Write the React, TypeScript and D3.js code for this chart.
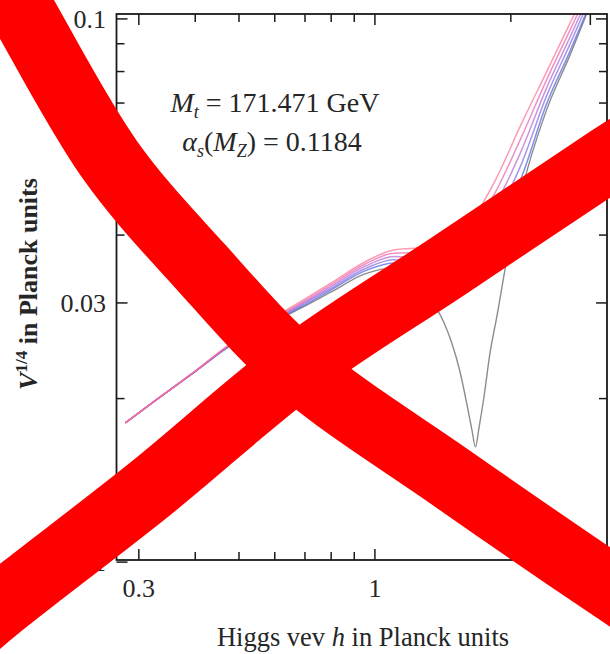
import React from "react";
import * as d3 from "d3";

const W = 610;
const H = 654;
const frame = { left: 116.5, right: 607, top: 14, bottom: 560 };

// Axis domains (log-log)
const xDomain: [number, number] = [0.2677, 3.266];
const yDomain: [number, number] = [0.01009, 0.1021];

const xMajorTicks = [0.3, 1, 3];
const xTickLabels = ["0.3", "1", "3"];
const xMinorTicks = [0.4, 0.5, 0.6, 0.7, 0.8, 0.9, 2];
const yMajorTicks = [0.01, 0.03, 0.1];
const yTickLabels = ["0.01", "0.03", "0.1"];
const yMinorTicks = [0.02, 0.04, 0.05, 0.06, 0.07, 0.08, 0.09];

// Higgs vev h (Planck units) shared by the coloured family
const hGrid = [0.28, 0.33, 0.4, 0.48, 0.57, 0.68, 0.8, 0.95, 1.1, 1.3, 1.45, 1.65, 1.85, 2.1, 2.4, 2.7, 3.0];

// V^{1/4} for each member of the family
const vPink = [0.01804, 0.01997, 0.02248, 0.02527, 0.02756, 0.03006, 0.03265, 0.03569, 0.03756, 0.03804, 0.03919, 0.04302, 0.05054, 0.06354, 0.07989, 0.09793, 0.117];
const vRose = [0.01804, 0.01997, 0.02247, 0.02522, 0.02747, 0.02989, 0.03241, 0.03535, 0.03704, 0.03719, 0.03807, 0.04132, 0.04803, 0.06001, 0.07723, 0.09506, 0.1145];
const vOrchid = [0.01804, 0.01997, 0.02246, 0.02518, 0.02738, 0.02971, 0.03217, 0.03502, 0.03654, 0.03638, 0.03701, 0.03969, 0.04565, 0.05667, 0.07465, 0.09229, 0.1119];
const vViolet = [0.01804, 0.01997, 0.02245, 0.02515, 0.02729, 0.02955, 0.03193, 0.03468, 0.03603, 0.03557, 0.03595, 0.03812, 0.04338, 0.05352, 0.07216, 0.08959, 0.1095];
const vBlue = [0.01804, 0.01997, 0.02243, 0.02511, 0.02721, 0.02937, 0.0317, 0.03436, 0.03554, 0.0348, 0.03495, 0.03662, 0.04123, 0.05054, 0.06976, 0.08697, 0.107];

// Critical case: the potential nearly vanishes around h ~ 1.67
const hCritical = [0.28, 0.33, 0.4, 0.48, 0.57, 0.68, 0.8, 0.95, 1.1, 1.2, 1.3, 1.36, 1.42, 1.48, 1.54, 1.6, 1.64, 1.67, 1.7, 1.74, 1.8, 1.86, 1.95, 2.1, 2.4, 2.7, 3.0];
const vCritical = [0.01804, 0.01997, 0.02243, 0.02508, 0.02715, 0.02924, 0.03143, 0.03392, 0.0348, 0.03378, 0.0317, 0.02962, 0.02768, 0.02532, 0.02258, 0.01946, 0.01751, 0.01629, 0.01766, 0.01988, 0.02437, 0.02815, 0.03524, 0.04722, 0.068, 0.0855, 0.1062];

const familyColors = ["#ff6f8e", "#e564b2", "#b468d2", "#8468e0", "#4f5fe0"];
const criticalColor = "#8c8c8c";

// Big red cross drawn over the figure
const crossStrokeA: [number, number][] = [[-15, -53], [16, 0], [110, 160], [200, 266], [300, 370], [450, 477], [610, 587], [660, 620]];
const crossStrokeB: [number, number][] = [[-40, 640], [0, 606], [150, 489], [300, 365], [450, 265], [610, 158], [660, 126]];

const serif = "'Liberation Serif', 'Times New Roman', serif";
const textColor = "#262626";

export default function App() {
  const x = d3.scaleLog().domain(xDomain).range([frame.left, frame.right]);
  const y = d3.scaleLog().domain(yDomain).range([frame.bottom, frame.top]);

  const curve = d3
    .line<[number, number]>()
    .x((d) => x(d[0]))
    .y((d) => y(d[1]))
    .curve(d3.curveMonotoneX);

  const family = [vPink, vRose, vOrchid, vViolet, vBlue];
  const drawOrder = [4, 3, 2, 1, 0];

  const cross = d3.line<[number, number]>().curve(d3.curveCatmullRom.alpha(0.5));

  const majorLen = 11;
  const minorLen = 8;

  return (
    <svg
      width={W}
      height={H}
      viewBox={`0 0 ${W} ${H}`}
      style={{ position: "absolute", left: 0, top: 0, background: "#fff" }}
    >
      <defs>
        <clipPath id="plot-area">
          <rect x={frame.left} y={frame.top} width={frame.right - frame.left} height={frame.bottom - frame.top} />
        </clipPath>
      </defs>
      <rect x={0} y={0} width={W} height={H} fill="#fff" />

      {/* curves */}
      <g clipPath="url(#plot-area)" fill="none" strokeLinejoin="round">
        <path
          d={curve(hCritical.map((h, i) => [h, vCritical[i]]) as [number, number][]) || ""}
          stroke={criticalColor}
          strokeWidth={1.4}
        />
        {drawOrder.map((k) => (
          <path
            key={k}
            d={curve(hGrid.map((h, i) => [h, family[k][i]]) as [number, number][]) || ""}
            stroke={familyColors[k]}
            strokeWidth={1.5}
            strokeOpacity={0.7}
          />
        ))}
      </g>

      {/* frame */}
      <rect
        x={frame.left}
        y={frame.top}
        width={frame.right - frame.left}
        height={frame.bottom - frame.top}
        fill="none"
        stroke="#1a1a1a"
        strokeWidth={1.8}
      />

      {/* ticks */}
      <g stroke="#1a1a1a" strokeWidth={1.5}>
        {xMajorTicks.concat(xMinorTicks).map((t, i) => {
          const len = i < xMajorTicks.length ? majorLen : minorLen;
          const px = x(t);
          return (
            <g key={`xt${t}`}>
              <line x1={px} x2={px} y1={frame.bottom} y2={frame.bottom - len} />
              <line x1={px} x2={px} y1={frame.top} y2={frame.top + len} />
            </g>
          );
        })}
        {yMajorTicks.concat(yMinorTicks).map((t, i) => {
          const len = i < yMajorTicks.length ? majorLen : minorLen;
          const py = y(t);
          return (
            <g key={`yt${t}`}>
              <line x1={frame.left} x2={frame.left + len} y1={py} y2={py} />
              <line x1={frame.right} x2={frame.right - len} y1={py} y2={py} />
            </g>
          );
        })}
      </g>

      {/* tick labels */}
      <g fontFamily={serif} fontSize={26} fill={textColor}>
        {xMajorTicks.map((t, i) => (
          <text key={`xl${t}`} x={x(t)} y={597} textAnchor="middle">
            {xTickLabels[i]}
          </text>
        ))}
        {yMajorTicks.map((t, i) => (
          <text key={`yl${t}`} x={106} y={y(t) + 9} textAnchor="end">
            {yTickLabels[i]}
          </text>
        ))}
      </g>

      {/* axis titles */}
      <text x={363} y={646} textAnchor="middle" fontFamily={serif} fontSize={26.5} fill={textColor}>
        Higgs vev <tspan fontStyle="italic">h</tspan> in Planck units
      </text>
      <text
        transform="translate(37,284) rotate(-90)"
        textAnchor="middle"
        fontFamily={serif}
        fontSize={26}
        fontWeight="bold"
        fill={textColor}
      >
        <tspan fontStyle="italic">V</tspan>
        <tspan fontSize={17} dy={-10}>1/4</tspan>
        <tspan dy={10}> in Planck units</tspan>
      </text>

      {/* parameter annotation */}
      <g fontFamily={serif} fontSize={28} fill={textColor}>
        <text x={275} y={112} textAnchor="middle">
          <tspan fontStyle="italic">M</tspan>
          <tspan fontStyle="italic" fontSize={18} dy={6}>t</tspan>
          <tspan dy={-6}> = 171.471 GeV</tspan>
        </text>
        <text x={272} y={151} textAnchor="middle">
          <tspan fontStyle="italic">α</tspan>
          <tspan fontStyle="italic" fontSize={18} dy={6}>s</tspan>
          <tspan dy={-6}>(</tspan>
          <tspan fontStyle="italic">M</tspan>
          <tspan fontStyle="italic" fontSize={18} dy={6}>Z</tspan>
          <tspan dy={-6}>) = 0.1184</tspan>
        </text>
      </g>

      {/* red cross */}
      <g fill="none" stroke="#ff0000" strokeWidth={66} strokeLinecap="butt">
        <path d={cross(crossStrokeA) || ""} />
        <path d={cross(crossStrokeB) || ""} />
      </g>
    </svg>
  );
}
